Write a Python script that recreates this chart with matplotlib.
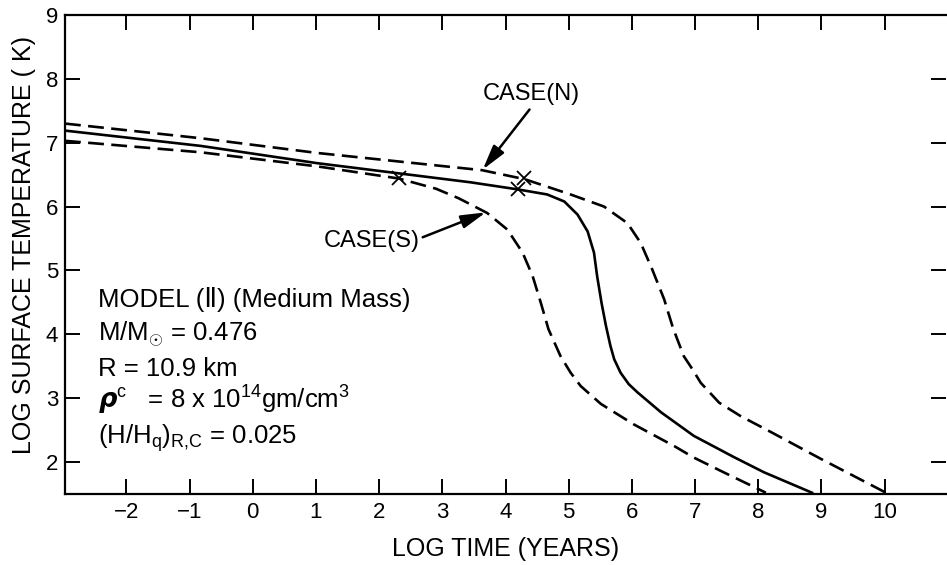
import numpy as np
import matplotlib
matplotlib.use("Agg")
import matplotlib.pyplot as plt

plt.rcParams['font.family'] = ['Liberation Sans', 'DejaVu Sans']
plt.rcParams['mathtext.fontset'] = 'custom'
plt.rcParams['mathtext.rm'] = 'Liberation Sans'
plt.rcParams['mathtext.it'] = 'Liberation Sans:italic'
plt.rcParams['mathtext.bf'] = 'Liberation Sans:bold'

# cooling curves: log time (years) vs log surface temperature (K)
# solid line, model II
log_t_mid = [-2.97, -0.82, 1.02, 3.45, 4.19, 4.66, 4.93, 5.14, 5.30, 5.40, 5.45,
             5.52, 5.59, 5.66, 5.72, 5.82, 5.95, 6.09, 6.46, 6.98, 7.61, 8.09, 8.85]
log_T_mid = [7.19, 6.95, 6.68, 6.38, 6.27, 6.19, 6.08, 5.875, 5.61, 5.28, 4.91,
             4.49, 4.13, 3.82, 3.61, 3.40, 3.22, 3.09, 2.78, 2.41, 2.08, 1.84, 1.52]

# upper dashed line, CASE(N)
log_t_n = [-2.97, -0.82, 1.02, 3.63, 4.30, 5.03, 5.56, 5.93, 6.14, 6.32, 6.51,
           6.65, 6.82, 6.96, 7.09, 7.38, 7.72, 8.2, 8.99, 10.02]
log_T_n = [7.30, 7.07, 6.84, 6.57, 6.43, 6.19, 6.00, 5.74, 5.43, 5.02, 4.55,
           4.10, 3.66, 3.45, 3.24, 2.93, 2.72, 2.47, 2.05, 1.52]

# lower dashed line, CASE(S)
log_t_s = [-2.97, -0.82, 1.02, 2.31, 2.90, 3.26, 3.71, 4.03, 4.27, 4.43, 4.56,
           4.68, 4.87, 5.03, 5.19, 5.35, 5.51, 6.03, 6.67, 6.98, 7.41, 8.12]
log_T_s = [7.03, 6.85, 6.63, 6.44, 6.28, 6.13, 5.90, 5.64, 5.28, 4.91, 4.49,
           4.08, 3.66, 3.40, 3.19, 3.05, 2.91, 2.59, 2.25, 2.07, 1.86, 1.52]

# the x marks on the three curves
cross_t = [2.31, 4.19, 4.30]
cross_T = [6.44, 6.27, 6.44]

xticks = list(range(-2, 11))
yticks = list(range(2, 10))

model_lines = [
    "MODEL (\u2161) (Medium Mass)",
    r"M/M$_{\odot}$ = 0.476",
    "R = 10.9 km",
    r"$\boldsymbol{\rho}^{\mathrm{c}}$   = 8 x 10$^{14}$gm/cm$^{3}$",
    r"(H/H$_{\mathrm{q}}$)$_{\mathrm{R{,}C}}$ = 0.025",
]
model_y = [4.43, 3.90, 3.35, 2.83, 2.28]

fig = plt.figure(figsize=(9.47, 5.65), dpi=100)
ax = fig.add_axes([65/947, 71/565, 881/947, 479/565])

dash = (6, 2.8)
ax.plot(log_t_mid, log_T_mid, color='k', lw=1.9, solid_joinstyle='round')
ax.plot(log_t_n, log_T_n, color='k', lw=1.9, dashes=dash)
ax.plot(log_t_s, log_T_s, color='k', lw=1.9, dashes=dash)
ax.plot(cross_t, cross_T, 'x', color='k', ms=10, mew=1.3)

ax.set_xlim(-2.97, 10.97)
ax.set_ylim(1.5, 9)
ax.set_xticks(xticks)
ax.set_yticks(yticks)
ax.tick_params(direction='in', length=11, width=1.4, labelsize=16,
               top=True, right=True)
ax.tick_params(axis='x', pad=6)
ax.tick_params(axis='y', pad=5)
for s in ax.spines.values():
    s.set_linewidth(1.6)
ax.spines['right'].set_visible(False)

ax.set_xlabel("LOG TIME (YEARS)", fontsize=18)
ax.set_ylabel("LOG SURFACE TEMPERATURE ( K)", fontsize=18)
ax.xaxis.set_label_coords(0.5, -0.09)
ax.yaxis.set_label_coords(-0.033, 0.52)

# case labels with arrows
arr = dict(arrowstyle='-|>,head_length=0.75,head_width=0.2', color='k', lw=1.8,
           shrinkA=0, shrinkB=0, mutation_scale=20)
ax.text(4.41, 7.67, "CASE(N)", fontsize=17, ha='center', va='baseline')
ax.annotate("", xy=(3.64, 6.58), xytext=(4.38, 7.52), arrowprops=arr)
ax.text(1.89, 5.36, "CASE(S)", fontsize=17, ha='center', va='baseline')
ax.annotate("", xy=(3.69, 5.91), xytext=(2.69, 5.52), arrowprops=arr)

for line, yy in zip(model_lines, model_y):
    ax.text(-2.45, yy, line, fontsize=18.5, ha='left', va='baseline')

fig.savefig("out.png", dpi=100)
